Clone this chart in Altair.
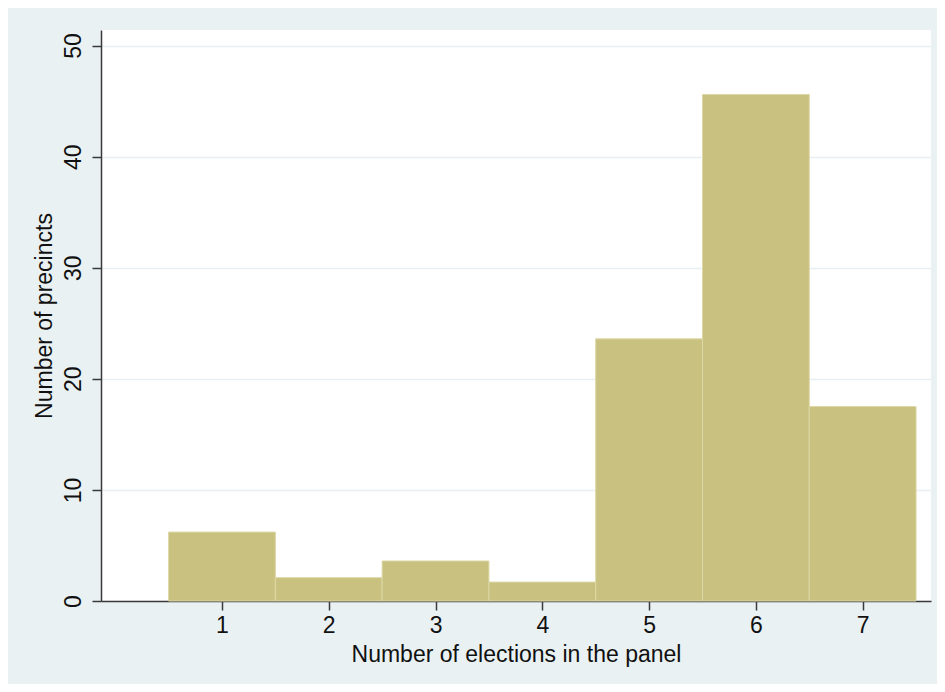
import altair as alt
import pandas as pd

elections = [1, 2, 3, 4, 5, 6, 7]
precincts = [6.2, 2.1, 3.6, 1.7, 23.6, 45.6, 17.5]
x_ticks = [1, 2, 3, 4, 5, 6, 7]
y_ticks = [0, 10, 20, 30, 40, 50]

df = pd.DataFrame({"elections": elections, "precincts": precincts})

FONT = "Liberation Sans"
BG = "#EAF1F3"
BAR = "#C9C17F"
BAR_EDGE = "#DCD7A6"
AXIS = "#3A3A3A"

chart = (
    alt.Chart(df)
    .transform_calculate(x0="datum.elections - 0.5", x1="datum.elections + 0.5")
    .mark_rect(fill=BAR, stroke=BAR_EDGE, strokeWidth=1)
    .encode(
        x=alt.X(
            "x0:Q",
            scale=alt.Scale(domain=[-0.133, 7.64], nice=False, zero=False),
            axis=alt.Axis(
                title="Number of elections in the panel",
                values=x_ticks,
                format="d",
                grid=False,
                domainColor=AXIS,
                domainWidth=1.5,
                tickColor=AXIS,
                tickWidth=1.5,
                tickSize=9,
                labelFont=FONT,
                labelFontSize=23,
                labelColor="#111111",
                labelPadding=4,
                titleFont=FONT,
                titleFontSize=23,
                titleFontWeight="normal",
                titleColor="#111111",
                titlePadding=6,
            ),
        ),
        x2="x1:Q",
        y=alt.Y(
            "precincts:Q",
            scale=alt.Scale(domain=[0, 51.4], nice=False),
            axis=alt.Axis(
                title="Number of precincts",
                values=y_ticks,
                grid=True,
                gridColor="#E6EFF1",
                gridWidth=1.5,
                domainColor=AXIS,
                domainWidth=1.5,
                tickColor=AXIS,
                tickWidth=1.5,
                tickSize=9,
                labelFont=FONT,
                labelFontSize=23,
                labelColor="#111111",
                labelAngle=270,
                labelAlign="center",
                labelBaseline="bottom",
                labelPadding=7,
                titleFont=FONT,
                titleFontSize=23,
                titleFontWeight="normal",
                titleColor="#111111",
                titlePadding=6,
            ),
        ),
        y2=alt.Y2(datum=0),
    )
    .properties(
        width=830,
        height=571,
        background=BG,
        padding={"left": 93, "top": 22, "right": 6, "bottom": 83},
        autosize=alt.AutoSizeParams(type="none"),
    )
    .configure_view(fill="white", stroke=None)
)

chart.save("out.html", embed_options={"renderer": "svg", "actions": False})
